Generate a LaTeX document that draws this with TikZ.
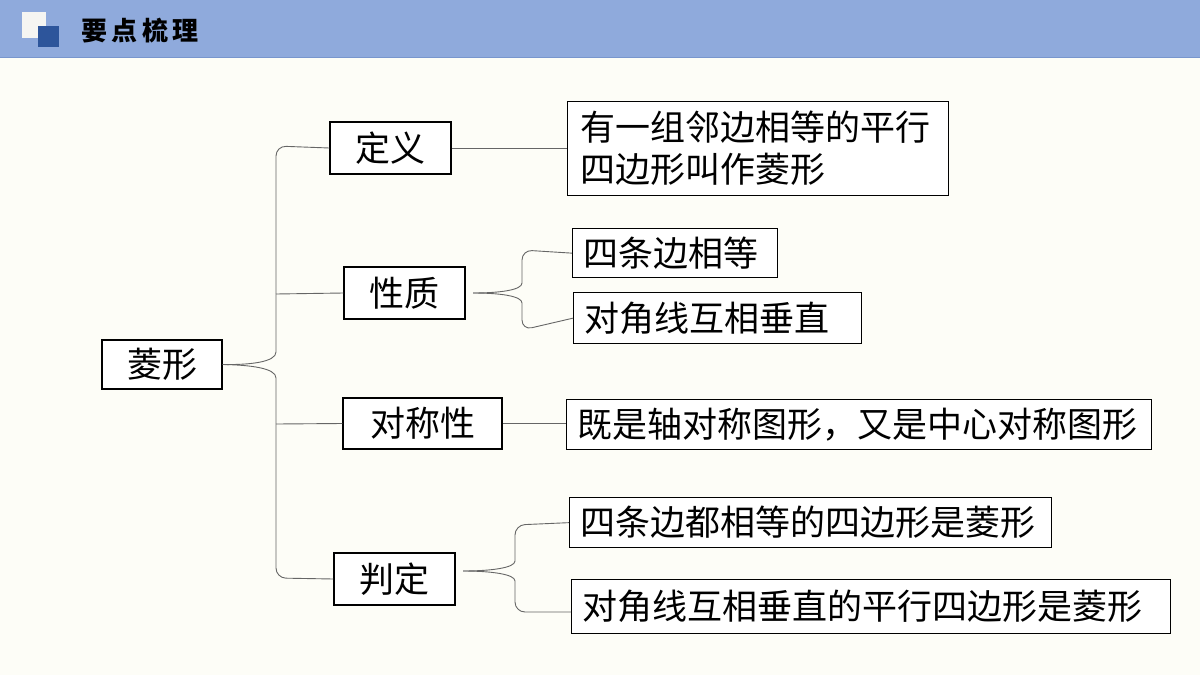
\documentclass[tikz,border=0pt]{standalone}
\usepackage{fontspec}
\setmainfont{Noto Sans CJK SC}
\begin{document}
\begin{tikzpicture}[x=1pt,y=-1pt,
 bx/.style={draw=black,line width=1.3pt,fill=white,inner sep=0pt,font=\fontsize{35}{42}\selectfont},
 ln/.style={draw=black!60,line width=0.9pt},
 br/.style={draw=black!60,line width=0.9pt,rounded corners=10pt}]
\fill[fill={rgb,255:red,253;green,253;blue,247}] (0,0) rectangle (1200,675);
\useasboundingbox (0,0) rectangle (1200,675);
\fill[fill={rgb,255:red,143;green,170;blue,220}] (0,0) rectangle (1200,57);
\draw[draw={rgb,255:red,120;green,150;blue,205},line width=1pt] (0,57)--(1200,57);
\fill[fill={rgb,255:red,245;green,245;blue,242}] (22,12) rectangle (46,38);
\fill[fill={rgb,255:red,45;green,85;blue,155}] (38,26) rectangle (59,47);
\node[anchor=west,font=\fontsize{26}{30}\selectfont\bfseries] (t) at (78,31) {要\,点\,梳\,理};
% boxes
\node[bx,minimum width=120,minimum height=49] (r) at (162,364.5) {菱形};
\node[bx,minimum width=121,minimum height=52] (a) at (390.5,148) {定义};
\node[bx,minimum width=121,minimum height=52] (b) at (404.5,293) {性质};
\node[bx,minimum width=159,minimum height=51] (c) at (422.5,423.5) {对称性};
\node[bx,minimum width=121,minimum height=52] (d) at (394.5,579) {判定};
\node[bx,minimum width=381,minimum height=94,anchor=north west,text width=376,align=left] (a1) at (567,101) {\hspace{10pt}有一组邻边相等的平行\\\hspace{10pt}四边形叫作菱形};
\node[bx,minimum width=205,minimum height=49,anchor=north west,text width=200,align=left] (b1) at (572,228) {\hspace{8pt}四条边相等};
\node[bx,minimum width=288,minimum height=51,anchor=north west,text width=283,align=left] (b2) at (573,292) {\hspace{8pt}对角线互相垂直};
\node[bx,minimum width=585,minimum height=50,anchor=north west,text width=580,align=left] (c1) at (566,399) {\hspace{8pt}既是轴对称图形，又是中心对称图形};
\node[bx,minimum width=482,minimum height=50,anchor=north west,text width=477,align=left] (d1) at (569,497) {\hspace{8pt}四条边都相等的四边形是菱形};
\node[bx,minimum width=599,minimum height=54,anchor=north west,text width=594,align=left] (d2) at (571,579) {\hspace{8pt}对角线互相垂直的平行四边形是菱形};
% main brace
\coordinate (m1) at (276,352);\coordinate (m2) at (276,378);
\draw[br] (a.west) -- (276,146) -- (m1);
\draw[ln] (r.east) .. controls (250,365) and (276,362) .. (m1);
\draw[ln] (r.east) .. controls (250,365) and (276,368) .. (m2);
\draw[br] (m2) -- (276,578) -- (d.west);
\draw[ln] (276,294) -- (b.west);
\draw[ln] (276,424) -- (c.west);
% 性质 brace
\coordinate (p1) at (522,283);\coordinate (p2) at (522,303);
\draw[ln] (473,293) .. controls (500,293) and (522,290) .. (p1);
\draw[ln] (473,293) .. controls (500,293) and (522,296) .. (p2);
\draw[br] (p1) -- (522,250) -- (b1.west);
\draw[br] (p2) -- (522,330) -- (b2.west);
% 判定 brace
\coordinate (q1) at (515,561);\coordinate (q2) at (515,581);
\draw[ln] (463,571) .. controls (490,571) and (515,568) .. (q1);
\draw[ln] (463,571) .. controls (490,571) and (515,574) .. (q2);
\draw[br] (q1) -- (515,525) -- (d1.west);
\draw[br] (q2) -- (515,612) -- (d2.west|-0,612);
% straight connectors
\draw[ln] (a.east) -- (a1.west|-a.east);
\draw[ln] (c.east) -- (c1.west|-c.east);
\end{tikzpicture}
\end{document}
